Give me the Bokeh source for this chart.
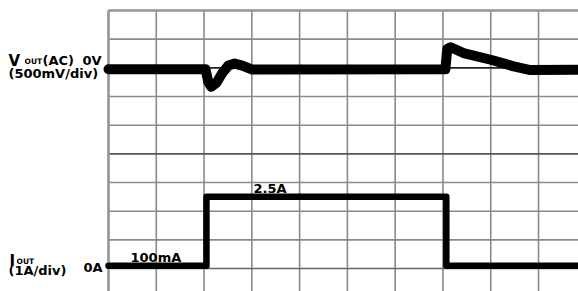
from bokeh.plotting import figure
from bokeh.models import Range1d
from bokeh.core.properties import value
from bokeh.embed import file_html
from bokeh.resources import INLINE

# ---- data (time in divisions) ----
grid_divs = list(range(11))

v_t = [0.0, 2.03, 2.09, 2.15, 2.26, 2.39, 2.51, 2.64, 2.80, 3.01, 7.05, 7.09, 7.16, 7.43, 8.00, 8.48, 8.83, 9.90]
v_mv = [-25, -25, -250, -330, -260, -80, 40, 75, 40, -30, -25, 330, 360, 258, 141, 26, -38, -33]

i_t = [0.0, 2.05, 2.05, 7.07, 7.07, 9.90]
i_amp = [0.1, 0.1, 2.5, 2.5, 0.1, 0.1]

V_ZERO_DIV = 8.0      # 0V reference grid line
V_MV_PER_DIV = 500.0
I_ZERO_DIV = 1.0      # 0A reference grid line
I_A_PER_DIV = 1.0

# ---- geometry: screen mapping (px) ----
PX_X = 47.78
PX_Y = 28.67
X0 = 108.0
Y_BOT = 296.7

W, H = 578, 291
x_lo = (0 - X0) / PX_X
x_hi = (W - X0) / PX_X
y_hi = Y_BOT / PX_Y
y_lo = (Y_BOT - H) / PX_Y

p = figure(width=W, height=H, output_backend="svg", toolbar_location=None,
           x_range=Range1d(x_lo, x_hi), y_range=Range1d(y_lo, y_hi),
           x_axis_type=None, y_axis_type=None, min_border=0,
           outline_line_color=None, background_fill_color="white",
           border_fill_color="white")
p.grid.visible = False

# grid
gx = [g for g in grid_divs]
p.segment(x0=gx, y0=[0] * len(gx), x1=gx, y1=[10] * len(gx),
          line_color="#8a8a8a", line_width=1.6)
h_colors = ["#8a8a8a"] * len(grid_divs)
h_colors[5] = "#555555"
h_colors[8] = "#222222"
h_colors[1] = "#666666"
p.segment(x0=[0] * len(grid_divs), y0=grid_divs, x1=[10] * len(grid_divs), y1=grid_divs,
          line_color=h_colors, line_width=1.6)
# frame border (top & left)
p.segment(x0=[0, 0], y0=[10, 0], x1=[10, 0], y1=[10, 10], line_color="#999999", line_width=2.6)

# traces
v_y = [V_ZERO_DIV + mv / V_MV_PER_DIV for mv in v_mv]
p.line(v_t, v_y, line_color="black", line_width=10, line_join="round", line_cap="round")
i_y = [I_ZERO_DIV + a / I_A_PER_DIV for a in i_amp]
p.line(i_t, i_y, line_color="black", line_width=6.5, line_join="round", line_cap="round")

def sx(px):
    return (px - X0) / PX_X

def sy(py):
    return (Y_BOT - py) / PX_Y

font = value("DejaVu Sans")
big = dict(text_font=font, text_font_style="bold", text_font_size="13px",
           text_color="black", text_baseline="alphabetic", text_align="left")
huge = dict(text_font=font, text_font_style="bold", text_font_size="15px",
            text_color="black", text_baseline="alphabetic", text_align="left")
small = dict(text_font=font, text_font_style="bold", text_font_size="7.5px",
             text_color="black", text_baseline="alphabetic", text_align="left")

labels_big = ["(AC)", "0V", "(500mV/div)", "(1A/div)", "0A", "100mA", "2.5A"]
lx = [42, 82, 8, 8, 83, 130, 253]
ly = [60, 60, 73, 270, 267, 257, 188]
p.text(x=[sx(v) for v in lx], y=[sy(v) for v in ly], text=labels_big, **big)

labels_huge = ["V", "I"]
hx = [8, 9]
hy = [60, 260]
p.text(x=[sx(v) for v in hx], y=[sy(v) for v in hy], text=labels_huge, **huge)

labels_small = ["OUT", "OUT"]
sxs = [24, 16]
sys_ = [61, 261]
p.text(x=[sx(v) for v in sxs], y=[sy(v) for v in sys_], text=labels_small, **small)

open("out.html", "w").write(file_html(p, INLINE))
